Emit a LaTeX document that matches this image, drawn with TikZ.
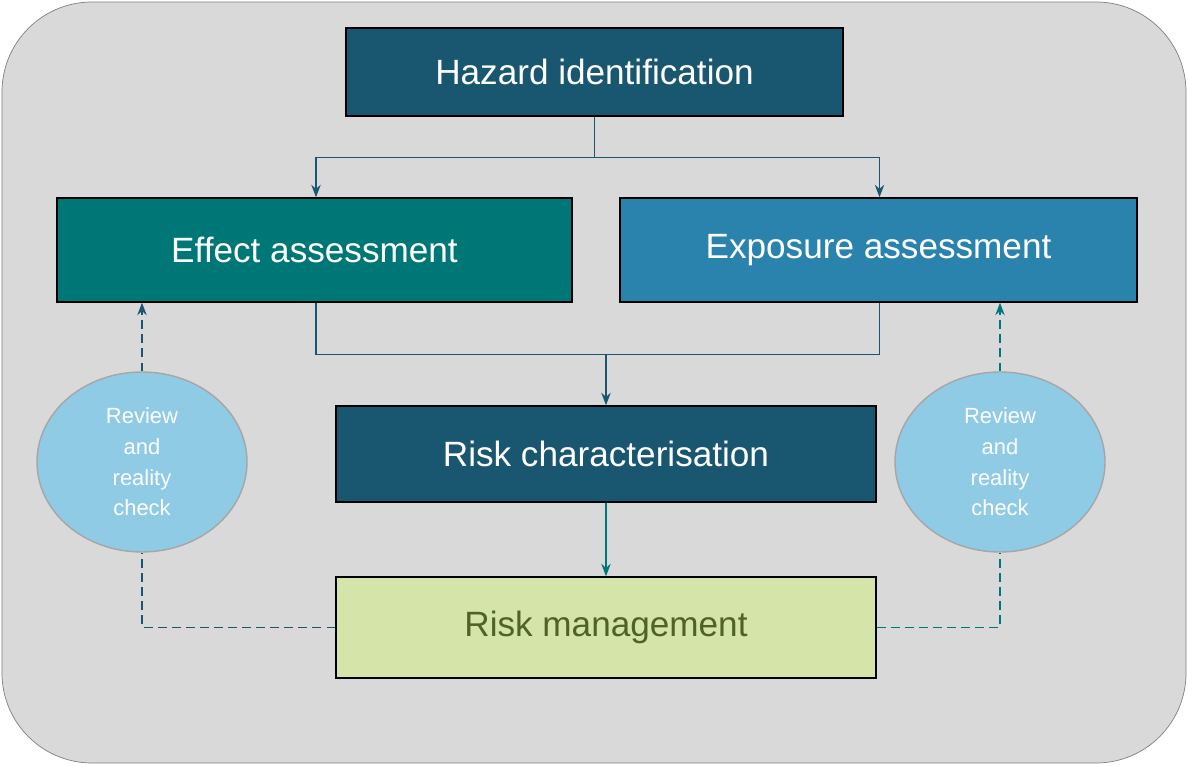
\documentclass[tikz,border=0pt]{standalone}
\usepackage{fontspec}
\setmainfont{Liberation Sans}
\usetikzlibrary{calc}
\usetikzlibrary{shapes.geometric}
\usetikzlibrary{arrows.meta}

\definecolor{darkblue}{HTML}{195670}
\definecolor{effteal}{HTML}{007777}
\definecolor{expblue}{HTML}{2983AC}
\definecolor{mgmtgreen}{HTML}{D5E4A9}
\definecolor{mgmttext}{HTML}{4F6228}
\definecolor{checkblue}{HTML}{8FCBE5}
\definecolor{panelgray}{HTML}{D9D9D9}

\tikzset{
    stagebox/.style={draw=black, thick, minimum height=#1, text=white, font=\fontsize{20}{24}\selectfont},
    checkbubble/.style={ellipse, draw=gray!70, thick, fill=checkblue, minimum width=4.2cm, minimum height=3.6cm, text=white, align=center, font=\fontsize{12.5}{17.5}\selectfont},
    flow/.style={thick, -{Stealth[length=2.5mm]}},
    backflow/.style={thick, dashed, dash pattern=on 5pt off 3pt}
}

\begin{document}
\begin{tikzpicture}
    % the panel
    \useasboundingbox (0,0) rectangle (23.76,15.3);
    \draw[gray, fill=panelgray, rounded corners=1.8cm] (0.04,0.04) rectangle (23.72,15.26);

    % the stages
    \node[stagebox=1.76cm, minimum width=9.94cm, fill=darkblue] (hazard) at (11.89,13.86) {Hazard identification};
    \node[stagebox=2.08cm, minimum width=10.3cm, fill=effteal] (effect) at (6.29,10.3) {Effect assessment};
    \node[stagebox=2.08cm, minimum width=10.34cm, fill=expblue] (exposure) at (17.57,10.3) {Exposure assessment};
    \node[stagebox=1.92cm, minimum width=10.8cm, fill=darkblue] (riskchar) at (12.12,6.22) {Risk characterisation};
    \node[stagebox=2.02cm, minimum width=10.8cm, fill=mgmtgreen, text=mgmttext] (riskmgmt) at (12.12,2.75) {Risk management};

    % the checks
    \node[checkbubble] (checkL) at (2.84,6.06) {Review\\and\\reality\\check};
    \node[checkbubble] (checkR) at (20.0,6.06) {Review\\and\\reality\\check};

    % hazard to the assessments
    \coordinate (split) at ($(hazard.south)+(0,-0.82)$);
    \draw[thick, darkblue] (hazard.south) -- (split);
    \draw[flow, darkblue] (split) -| ($(effect.north)+(0.03,0)$);
    \draw[flow, darkblue] (split) -| ($(exposure.north)+(0.02,0)$);

    % the assessments to risk characterisation
    \coordinate (merge) at ($(riskchar.north)+(0,1.02)$);
    \draw[thick, darkblue] ($(effect.south)+(0.03,0)$) |- (merge);
    \draw[thick, darkblue] ($(exposure.south)+(0.02,0)$) |- (merge);
    \draw[flow, darkblue] (merge) -- (riskchar.north);
    \draw[flow, effteal] (riskchar.south) -- (riskmgmt.north);

    % the review loops
    \draw[backflow, darkblue] (riskmgmt.west) -| (checkL.south);
    \draw[backflow, darkblue, -{Stealth[length=2.5mm]}] (checkL.north) -- (checkL.north |- effect.south);
    \draw[backflow, effteal] (riskmgmt.east) -| (checkR.south);
    \draw[backflow, effteal, -{Stealth[length=2.5mm]}] (checkR.north) -- (checkR.north |- exposure.south);
\end{tikzpicture}
\end{document}
